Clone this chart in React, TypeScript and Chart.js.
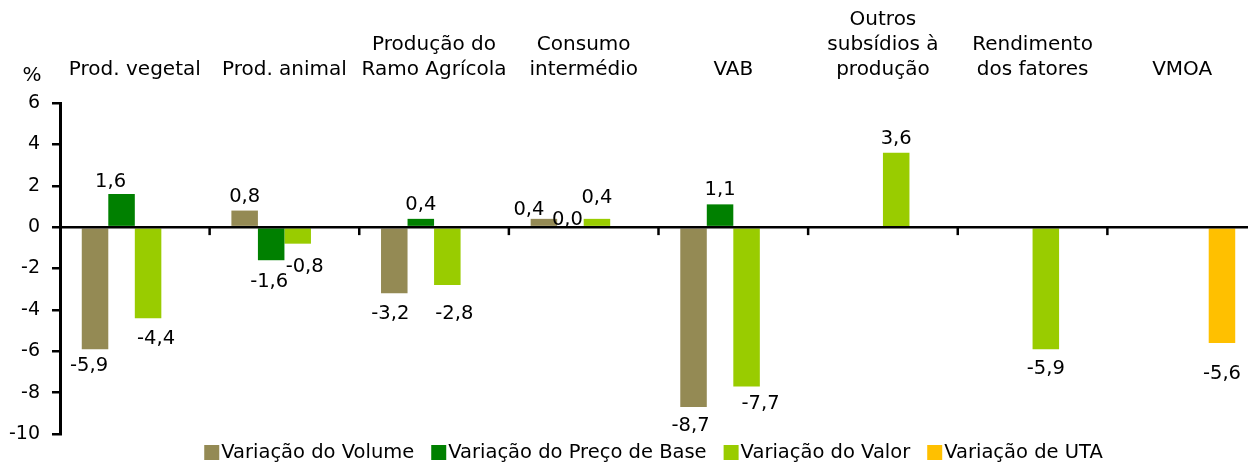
import React, { useEffect, useRef } from "react";
import { Chart, registerables } from "chart.js";

Chart.register(...registerables);

const categories: (string | string[])[] = [
  "Prod. vegetal",
  "Prod. animal",
  ["Produção do", "Ramo Agrícola"],
  ["Consumo", "intermédio"],
  "VAB",
  ["Outros", "subsídios à", "produção"],
  ["Rendimento", "dos fatores"],
  "VMOA",
];

const seriesNames = [
  "Variação do Volume",
  "Variação do Preço de Base",
  "Variação do Valor",
  "Variação de UTA",
];

const volume = [-5.9, 0.8, -3.2, 0.4, -8.7, null, null, null];
const preco = [1.6, -1.6, 0.4, 0.0, 1.1, null, null, null];
const valor = [-4.4, -0.8, -2.8, 0.4, -7.7, 3.6, -5.9, null];
const uta = [null, null, null, null, null, null, null, -5.6];

const colors = ["#948A54", "#008000", "#99CC00", "#FFC000"];

const yMin = -10;
const yMax = 6;
const yStep = 2;

const FONT = "'DejaVu Sans', Verdana, sans-serif";

// label nudges (dx, dy) in px, keyed "dataset-index"
const nudges: Record<string, [number, number]> = {
  "0-0": [-6, -2],
  "2-0": [8, 2],
  "1-0": [-11, 2],
  "1-1": [-2, 3],
  "2-1": [7, 4],
  "0-2": [-4, 2],
  "2-2": [7, 10],
  "0-3": [-15, 5],
  "1-3": [-3, 7],
  "2-3": [0, -7],
  "0-4": [-3, 0],
  "2-4": [14, -1],
  "2-6": [0, 1],
  "3-7": [0, 12],
};

const fmt = (v: number) => v.toFixed(1).replace(".", ",").replace("-0,0", "0,0");

const decorPlugin = {
  id: "decor",
  afterDatasetsDraw(chart: any) {
    const { ctx, chartArea, scales } = chart;
    const xs = scales.x;
    const ys = scales.y;
    const y0 = ys.getPixelForValue(0);
    ctx.save();
    // zero line
    ctx.strokeStyle = "#000";
    ctx.lineWidth = 2.5;
    ctx.beginPath();
    ctx.moveTo(chartArea.left, y0);
    ctx.lineTo(chartArea.right, y0);
    ctx.stroke();
    // category separators
    const n = chart.data.labels.length;
    for (let i = 0; i < n - 1; i++) {
      const x = (xs.getPixelForValue(i) + xs.getPixelForValue(i + 1)) / 2;
      ctx.beginPath();
      ctx.moveTo(x, y0);
      ctx.lineTo(x, y0 + 8);
      ctx.stroke();
    }
    // data labels
    ctx.fillStyle = "#000";
    ctx.font = `19.5px ${FONT}`;
    ctx.textAlign = "center";
    ctx.textBaseline = "alphabetic";
    chart.data.datasets.forEach((ds: any, di: number) => {
      const meta = chart.getDatasetMeta(di);
      ds.data.forEach((v: number | null, j: number) => {
        if (v === null || v === undefined) return;
        const el = meta.data[j];
        const nd = nudges[`${di}-${j}`] || [0, 0];
        let ty;
        if (v >= 0) ty = el.y - 9;
        else ty = el.y + 24;
        ctx.fillText(fmt(v), el.x + nd[0], ty + nd[1]);
      });
    });
    // % label
    ctx.font = `20px ${FONT}`;
    ctx.fillText("%", 32, 81);
    // legend
    ctx.font = `19.5px ${FONT}`;
    ctx.textAlign = "left";
    const box = 15;
    const gapBox = 2;
    const gapItem = 17;
    const names = chart.data.datasets.map((d: any) => d.label);
    const widths = names.map((s: string) => ctx.measureText(s).width);
    const total =
      widths.reduce((a: number, b: number) => a + b, 0) +
      names.length * (box + gapBox) +
      (names.length - 1) * gapItem;
    let x = (chartArea.left + chartArea.right) / 2 - 5 - total / 2;
    names.forEach((s: string, i: number) => {
      ctx.fillStyle = chart.data.datasets[i].backgroundColor;
      ctx.fillRect(x, 445, box, box);
      x += box + gapBox;
      ctx.fillStyle = "#000";
      ctx.fillText(s, x, 458);
      x += widths[i] + gapItem;
    });
    ctx.restore();
  },
};

export default function App() {
  const ref = useRef<HTMLCanvasElement | null>(null);
  useEffect(() => {
    document.body.style.margin = "0";
    document.body.style.overflow = "hidden";
    const canvas = ref.current!;
    const data = [volume, preco, valor, uta];
    const chart = new Chart(canvas, {
      type: "bar",
      data: {
        labels: categories,
        datasets: data.map((d, i) => ({
          label: seriesNames[i],
          data: d as any,
          backgroundColor: colors[i],
          borderWidth: 0,
          categoryPercentage: 0.709,
          barPercentage: 1,
        })),
      },
      options: {
        responsive: false,
        animation: false,
        layout: { padding: { left: 0, right: 0, top: 0, bottom: 28 } },
        plugins: {
          legend: { display: false },
          tooltip: { enabled: false },
        },
        scales: {
          x: {
            position: "top",
            grid: { display: false },
            border: { display: false },
            ticks: {
              color: "#000",
              font: { family: FONT, size: 20, lineHeight: 25 / 20 },
              padding: 13,
              maxRotation: 0,
              minRotation: 0,
              autoSkip: false,
            },
            afterFit: (scale: any) => {
              scale.height = 103;
            },
          },
          y: {
            min: yMin,
            max: yMax,
            ticks: {
              stepSize: yStep,
              color: "#000",
              font: { family: FONT, size: 19 },
              padding: 12,
              callback: (v: any) => String(v),
            },
            grid: {
              drawOnChartArea: false,
              drawTicks: true,
              tickLength: 8,
              color: "#000",
              lineWidth: 2.5,
            },
            border: { display: true, color: "#000", width: 3 },
            afterFit: (scale: any) => {
              scale.width = 60;
            },
          },
        },
      },
      plugins: [decorPlugin],
    });
    return () => chart.destroy();
  }, []);
  return (
    <div style={{ position: "fixed", left: 0, top: 0, width: 1257, height: 462 }}>
      <canvas ref={ref} width={1257} height={462} />
    </div>
  );
}
